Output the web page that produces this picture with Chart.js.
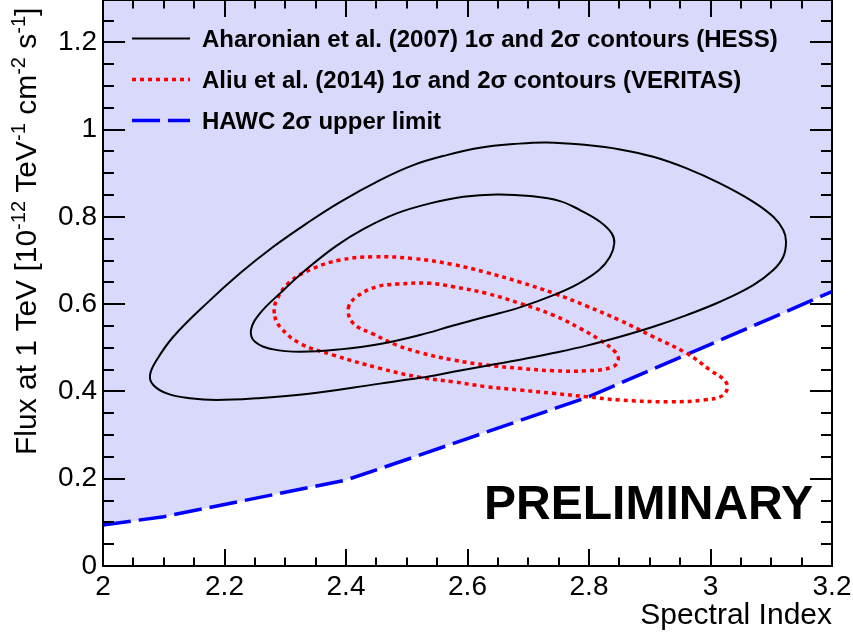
<!DOCTYPE html>
<html><head><meta charset="utf-8">
<script src="https://cdn.jsdelivr.net/npm/chart.js@4"></script>
<style>html,body{margin:0;padding:0;background:#fff;}#wrap{width:853px;height:636px;}</style>
</head><body><div id="wrap"><canvas id="c" width="853" height="636"></canvas></div>
<script>
// ---------- data ----------
const xTicks = [2, 2.2, 2.4, 2.6, 2.8, 3, 3.2];
const xTickLabels = ["2", "2.2", "2.4", "2.6", "2.8", "3", "3.2"];
const yTicks = [0, 0.2, 0.4, 0.6, 0.8, 1, 1.2];
const yTickLabels = ["0", "0.2", "0.4", "0.6", "0.8", "1", "1.2"];

// HESS (Aharonian et al. 2007) 2 sigma contour (closed loop)
const hessOuterX = [2.0774, 2.0884, 2.1157, 2.1707, 2.2255, 2.2803, 2.3353, 2.3901, 2.4560, 2.5108, 2.5658, 2.6206, 2.6754, 2.7304, 2.7962, 2.8510, 2.9058, 2.9608, 3.0156, 3.0704, 3.1034, 3.1198, 3.1243, 3.1198, 3.1034, 3.0704, 3.0156, 2.9608, 2.9058, 2.8510, 2.7962, 2.7412, 2.6864, 2.6316, 2.5766, 2.5218, 2.4560, 2.3353, 2.2530, 2.1872, 2.1432, 2.1049, 2.0828];
const hessOuterY = [0.4376, 0.4719, 0.5253, 0.6018, 0.6706, 0.7315, 0.7851, 0.8339, 0.8843, 0.9187, 0.9416, 0.9583, 0.9668, 0.9707, 0.9645, 0.9546, 0.9377, 0.9111, 0.8767, 0.8346, 0.8002, 0.7698, 0.7430, 0.7086, 0.6781, 0.6438, 0.6055, 0.5750, 0.5482, 0.5253, 0.5050, 0.4880, 0.4725, 0.4590, 0.4449, 0.4312, 0.4179, 0.3940, 0.3842, 0.3803, 0.3842, 0.3956, 0.4147];
// HESS 1 sigma contour
const hessInnerX = [2.2436, 2.2584, 2.2914, 2.3353, 2.3835, 2.4285, 2.4834, 2.5383, 2.5931, 2.6481, 2.7029, 2.7523, 2.7852, 2.8181, 2.8374, 2.8416, 2.8346, 2.8165, 2.7835, 2.7457, 2.6864, 2.6316, 2.5766, 2.5218, 2.4560, 2.3901, 2.3243, 2.2803, 2.2502];
const hessInnerY = [0.5407, 0.5789, 0.6247, 0.6804, 0.7331, 0.7720, 0.8080, 0.8309, 0.8461, 0.8515, 0.8477, 0.8362, 0.8156, 0.7888, 0.7622, 0.7393, 0.7086, 0.6781, 0.6477, 0.6231, 0.5927, 0.5716, 0.5510, 0.5292, 0.5086, 0.4964, 0.4910, 0.4964, 0.5139];
// VERITAS (Aliu et al. 2014) 2 sigma contour
const veritasOuterX = [2.2820, 2.2859, 2.3078, 2.3462, 2.3901, 2.4449, 2.5108, 2.5766, 2.6316, 2.6864, 2.7412, 2.7962, 2.8510, 2.9058, 2.9608, 2.9992, 3.0266, 3.0211, 2.9881, 2.9333, 2.8510, 2.7962, 2.7412, 2.6864, 2.6316, 2.5766, 2.5218, 2.4560, 2.3791, 2.3243, 2.2914];
const veritasOuterY = [0.5789, 0.6094, 0.6513, 0.6820, 0.7010, 0.7086, 0.7045, 0.6907, 0.6724, 0.6506, 0.6254, 0.5956, 0.5628, 0.5253, 0.4873, 0.4490, 0.4186, 0.3918, 0.3803, 0.3764, 0.3803, 0.3879, 0.3956, 0.4032, 0.4108, 0.4222, 0.4323, 0.4529, 0.4834, 0.5102, 0.5482];
// VERITAS 1 sigma contour
const veritasInnerX = [2.4038, 2.4176, 2.4505, 2.4834, 2.5383, 2.5766, 2.6316, 2.6864, 2.7412, 2.7852, 2.8181, 2.8428, 2.8482, 2.8374, 2.7962, 2.7412, 2.6864, 2.6316, 2.5766, 2.5218, 2.4834, 2.4449, 2.4120];
const veritasInnerY = [0.5904, 0.6170, 0.6399, 0.6460, 0.6477, 0.6399, 0.6247, 0.6018, 0.5750, 0.5446, 0.5178, 0.4910, 0.4719, 0.4552, 0.4474, 0.4474, 0.4529, 0.4605, 0.4719, 0.4891, 0.5063, 0.5315, 0.5560];
// HAWC 2 sigma upper limit
const hawcX = [2.0, 2.1, 2.2, 2.3, 2.4, 2.5, 2.6, 2.7, 2.8, 2.9, 3.0, 3.1, 3.2];
const hawcY = [0.094, 0.113, 0.141, 0.169, 0.197, 0.244, 0.292, 0.340, 0.388, 0.448, 0.508, 0.568, 0.629];

const legendLabels = [
  "Aharonian et al. (2007) 1\u03c3 and 2\u03c3 contours (HESS)",
  "Aliu et al. (2014) 1\u03c3 and 2\u03c3 contours (VERITAS)",
  "HAWC 2\u03c3 upper limit"
];
const legendDatasets = [0, 2, 4];
const xTitle = "Spectral Index";
const yTitleParts = [["Flux at 1 TeV [10", 0], ["-12", 1], [" TeV", 0], ["-1", 1], [" cm", 0], ["-2", 1], [" s", 0], ["-1", 1], ["]", 0]];
const watermark = "PRELIMINARY";

// ---------- helpers ----------
const pts = (xs, ys) => xs.map((x, i) => ({x: x, y: ys[i]}));
const FONT = '"Liberation Sans", Arial, sans-serif';
Chart.defaults.font.family = FONT;
Chart.defaults.color = '#000';

// make contour datasets closed, smooth loops (same mechanism the radar chart uses)
const closeLoops = {
  id: 'closeLoops',
  afterDatasetUpdate(chart, args) {
    const ds = chart.data.datasets[args.index];
    if (!ds.closed) return;
    const line = args.meta.dataset;
    line._loop = true;
    line._fullLoop = true;
    line._pointsUpdated = false;
    line._segments = undefined;
    line._path = undefined;
    if (line.updateControlPoints) line.updateControlPoints(chart.chartArea, 'x');
  }
};

const frameTicks = {
  id: 'frameTicks',
  afterDatasetsDraw(chart) {
    const {ctx, chartArea: a, scales: {x, y}} = chart;
    ctx.save();
    ctx.strokeStyle = '#000';
    ctx.lineWidth = 2;
    ctx.beginPath();
    for (let i = 0; i <= 24; i++) {
      const px = Math.round(x.getPixelForValue(2 + i * 0.05));
      const L = (i % 4 === 0) ? 17 : 8.5;
      ctx.moveTo(px, a.bottom); ctx.lineTo(px, a.bottom - L);
      ctx.moveTo(px, a.top); ctx.lineTo(px, a.top + L);
    }
    for (let i = 0; i <= 25; i++) {
      const py = Math.round(y.getPixelForValue(i * 0.05));
      const L = (i % 4 === 0) ? 22 : 11;
      ctx.moveTo(a.left, py); ctx.lineTo(a.left + L, py);
      ctx.moveTo(a.right, py); ctx.lineTo(a.right - L, py);
    }
    ctx.stroke();
    ctx.strokeRect(a.left, a.top, a.right - a.left, a.bottom - a.top);
    ctx.restore();
  }
};

const annotations = {
  id: 'annotations',
  afterDraw(chart) {
    const ctx = chart.ctx;
    ctx.save();
    const ly = [38.5, 79.5, 120.5];
    legendDatasets.forEach((idx, i) => {
      const ds = chart.data.datasets[idx];
      ctx.save();
      ctx.strokeStyle = ds.borderColor;
      ctx.lineWidth = ds.borderWidth;
      ctx.setLineDash(ds.borderDash || []);
      ctx.beginPath();
      ctx.moveTo(132, ly[i]); ctx.lineTo(190, ly[i]);
      ctx.stroke();
      ctx.restore();
      ctx.fillStyle = '#000';
      ctx.font = 'bold 24px ' + FONT;
      ctx.textAlign = 'left';
      ctx.textBaseline = 'alphabetic';
      ctx.fillText(legendLabels[i], 202, ly[i] + 8.5);
    });
    ctx.font = 'bold 48px ' + FONT;
    ctx.textAlign = 'right';
    ctx.fillText(watermark, 813, 519);
    ctx.translate(36, 455);
    ctx.rotate(-Math.PI / 2);
    ctx.textAlign = 'left';
    let xx = 0;
    for (const [t, sup] of yTitleParts) {
      ctx.font = (sup ? '20px ' : '30px ') + FONT;
      ctx.fillText(t, xx, sup ? -11 : 0);
      xx += ctx.measureText(t).width;
    }
    ctx.restore();
  }
};

const contourStyle = {pointRadius: 0, fill: false, tension: 0.4, closed: true};

new Chart(document.getElementById('c'), {
  type: 'line',
  data: {
    datasets: [
      Object.assign({label: legendLabels[0], data: pts(hessOuterX, hessOuterY), borderColor: '#000000', borderWidth: 2}, contourStyle),
      Object.assign({label: 'HESS 1 sigma', data: pts(hessInnerX, hessInnerY), borderColor: '#000000', borderWidth: 2}, contourStyle),
      Object.assign({label: legendLabels[1], data: pts(veritasOuterX, veritasOuterY), borderColor: '#ff0000', borderWidth: 3.5, borderDash: [4, 4]}, contourStyle),
      Object.assign({label: 'VERITAS 1 sigma', data: pts(veritasInnerX, veritasInnerY), borderColor: '#ff0000', borderWidth: 3.5, borderDash: [4, 4]}, contourStyle),
      {label: legendLabels[2], data: pts(hawcX, hawcY), borderColor: '#0000ff', borderWidth: 3.5, borderDash: [28, 8], tension: 0, pointRadius: 0, fill: 'end', backgroundColor: '#d9d9fc'}
    ]
  },
  options: {
    responsive: false,
    animation: false,
    devicePixelRatio: 1,
    layout: {padding: {left: 0, right: 21, top: 0, bottom: 0}},
    plugins: {
      legend: {display: false},
      tooltip: {enabled: false},
      filler: {drawTime: 'beforeDatasetsDraw'}
    },
    scales: {
      x: {
        type: 'linear', min: 2, max: 3.2,
        grid: {display: false, drawTicks: false},
        border: {display: false},
        afterBuildTicks: s => { s.ticks = xTicks.map(v => ({value: v})); },
        afterFit: s => { s.height = 70; s.paddingLeft = 0; s.paddingRight = 0; },
        ticks: {autoSkip: false, maxRotation: 0, padding: 4, color: '#000', font: {size: 28}, callback: (v, i) => xTickLabels[i]},
        title: {display: true, text: xTitle, align: 'end', color: '#000', font: {size: 30}, padding: {top: 0, bottom: 2}}
      },
      y: {
        type: 'linear', min: 0, max: 1.297,
        grid: {display: false, drawTicks: false},
        border: {display: false},
        afterBuildTicks: s => { s.ticks = yTicks.map(v => ({value: v})); },
        afterFit: s => { s.width = 103; s.paddingTop = 0; s.paddingBottom = 0; },
        ticks: {autoSkip: false, padding: 6, color: '#000', font: {size: 28}, callback: (v, i) => yTickLabels[i]}
      }
    }
  },
  plugins: [closeLoops, frameTicks, annotations]
});
</script>
</body></html>
